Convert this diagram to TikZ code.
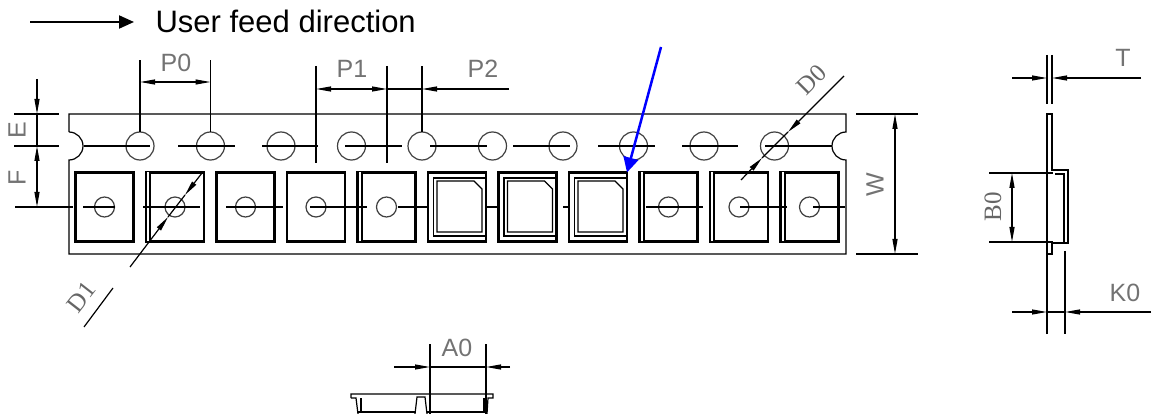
\documentclass[tikz,border=0pt]{standalone}
\usepackage{fontspec}
\setmainfont{Liberation Sans}
\newfontfamily\slabfont{Liberation Serif}
\usetikzlibrary{arrows.meta}

\newcommand{\lip}[1]{
  \draw[white,line width=1.6pt] ([xshift=2.2pt]#1.north west) -- ([xshift=2.2pt]#1.south west);
  \draw[line width=2pt] ([xshift=4pt]#1.north west) -- ([xshift=4pt]#1.south west);
}
\newcommand{\chipline}[1]{
  \draw[line width=1.3pt] ([xshift=-20pt,yshift=26pt]#1.center) -- ([xshift=17pt,yshift=26pt]#1.center)
    -- ([xshift=25pt,yshift=18pt]#1.center) -- ([xshift=25pt,yshift=-25pt]#1.center)
    -- ([xshift=-20pt,yshift=-25pt]#1.center) -- cycle;
}

\begin{document}
\begin{tikzpicture}[x=1pt,y=-1pt,>={Stealth[length=15pt,width=5pt,inset=0pt]},node distance=70.5pt,
                    line width=1.2pt,
                    hole/.style={circle,draw=black!75,minimum size=28pt,inner sep=0pt,outer sep=0pt},
                    dimple/.style={circle,draw=black!75,minimum size=20pt,inner sep=0pt,outer sep=0pt},
                    pocket/.style={rectangle,draw,line width=2.4pt,minimum width=58pt,minimum height=69pt,inner sep=0pt,outer sep=0pt},
                    frame/.style={rectangle,draw,line width=1.2pt,xshift=2.5pt,minimum width=52pt,minimum height=58pt,inner sep=0pt},
                    dim/.style={line width=1.2pt},
                    lbl/.style={font=\fontsize{25}{27}\selectfont,text=black!55,inner sep=0pt},
                    slab/.style={font=\fontsize{25}{27}\selectfont\slabfont,text=black!60,inner sep=0pt}]
  \useasboundingbox (0,0) rectangle (1152,414);

  % feed note
  \node[anchor=west,inner sep=0pt,font=\fontsize{31}{34}\selectfont] (feed) at (155,21) {User feed direction};
  \coordinate (feedtail) at (30,22);
  \coordinate (feedtip) at (134,22);
  \draw[line width=2pt,-{Triangle[length=15pt,width=13pt]}] (feedtail) -- (feedtip);

  % tape outline with the two notches
  \draw (69,132) -- (69,114) -- (846,114) -- (846,132)
        arc [start angle=-90,end angle=-270,radius=14] -- (846,254) -- (69,254) -- (69,160)
        arc [start angle=90,end angle=-90,radius=14];

  % sprocket holes
  \node[hole] (h1) at (140,146) {};
  \node[hole] (h2) [right of=h1] {};
  \node[hole] (h3) [right of=h2] {};
  \node[hole] (h4) [right of=h3] {};
  \node[hole] (h5) [right of=h4] {};
  \node[hole] (h6) [right of=h5] {};
  \node[hole] (h7) [right of=h6] {};
  \node[hole] (h8) [right of=h7] {};
  \node[hole] (h9) [right of=h8] {};
  \node[hole] (h10) [right of=h9] {};

  % pockets
  \node[pocket] (p1) at (104.5,207) {};
  \node[pocket] (p2) [right of=p1] {};
  \node[pocket] (p3) [right of=p2] {};
  \node[pocket] (p4) [right of=p3] {};
  \node[pocket] (p5) [right of=p4] {};
  \node[pocket] (p6) [right of=p5] {};
  \node[pocket] (p7) [right of=p6] {};
  \node[pocket] (p8) [right of=p7] {};
  \node[pocket] (p9) [right of=p8] {};
  \node[pocket] (p10) [right of=p9] {};
  \node[pocket] (p11) [right of=p10] {};
  \lip{p2} \lip{p5} \lip{p9} \lip{p10} \lip{p11}

  \node[dimple] (d1) at (p1) {};
  \node[dimple] (d2) at (p2) {};
  \node[dimple] (d3) at (p3) {};
  \node[dimple] (d4) at (p4) {};
  \node[dimple] (d5) at (p5) {};
  \node[dimple] (d9) at (p9) {};
  \node[dimple] (d10) at (p10) {};
  \node[dimple] (d11) at (p11) {};

  \node[frame] (f6) at (p6) {};
  \node[frame] (f7) at (p7) {};
  \node[frame] (f8) at (p8) {};
  \chipline{p6} \chipline{p7} \chipline{p8}

  % centre lines
  \path[dim]
    (84,146) edge (150,146)
    (178,146) edge (235,146)
    (262,146) edge (318,146)
    (345,146) edge (402,146)
    (430,146) edge (487,146)
    (513,146) edge (570,146)
    (598,146) edge (655,146)
    (682,146) edge (738,146)
    (765,146) edge (832,146)
    (83,207) edge (115,207)
    (143,207) edge (200,207)
    (226,207) edge (283,207)
    (310,207) edge (367,207)
    (398,207) edge (428,207)
    (487,207) edge (499,207)
    (563,207) edge (569,207)
    (646,207) edge (703,207)
    (740,207) edge (787,207)
    (813,207) edge (845,207);

  % E and F
  \coordinate (ea) at (37,79);
  \coordinate (eb) at (37,114);
  \coordinate (fa) at (37,146);
  \coordinate (fb) at (37,207);
  \path[dim]
    (ea) edge [->] (eb)
    (eb) edge (fa)
    (fa) edge [<->] (fb)
    (14,114) edge (59,114)
    (14,146) edge (59,146)
    (15,207) edge (73,207);
  \node[lbl,rotate=90] (elbl) at (17,130) {E};
  \node[lbl,rotate=90] (flbl) at (17,178) {F};

  % P0
  \coordinate (p0a) at (140,82);
  \coordinate (p0b) at (210.5,82);
  \path[dim]
    (h1.north) edge (140,60)
    (h2.north) edge (210.5,60)
    (p0a) edge [<->] (p0b);
  \node[lbl] (p0lbl) at (176,63) {P0};

  % P1 and P2
  \coordinate (p1a) at (316,89);
  \coordinate (p1b) at (387,89);
  \coordinate (p2a) at (422,89);
  \coordinate (p2b) at (509,89);
  \path[dim]
    (316,66) edge (316,163)
    (387,66) edge (387,163)
    (h5.north) edge (422,66)
    (p1a) edge [<->] (p1b)
    (p1b) edge (p2a)
    (p2b) edge [->] (p2a);
  \node[lbl] (p1lbl) at (352,69) {P1};
  \node[lbl] (p2lbl) at (483,69) {P2};

  % D0
  \coordinate (d0a) at (844,76);
  \coordinate (d0b) at (741,180);
  \coordinate (d0c) at (788,132);
  \coordinate (d0d) at (762,158);
  \path[dim]
    (d0a) edge [->] (d0c)
    (d0c) edge (d0d)
    (d0b) edge [->] (d0d);
  \node[slab,rotate=45] (d0lbl) at (812,80) {D0};

  % D1
  \coordinate (d1a) at (202,173);
  \coordinate (d1b) at (130,267);
  \coordinate (d1c) at (185,195);
  \coordinate (d1d) at (168,217);
  \coordinate (d1e) at (113,288);
  \coordinate (d1f) at (84,327);
  \path[dim]
    (d1a) edge [->] (d1c)
    (d1c) edge (d1d)
    (d1b) edge [->] (d1d)
    (d1e) edge (d1f);
  \node[slab,rotate=52] (d1lbl) at (81,297) {D1};

  % W
  \coordinate (wa) at (895,114);
  \coordinate (wb) at (895,254);
  \path[dim]
    (856,114) edge (918,114)
    (856,254) edge (918,254)
    (wa) edge [<->] (wb);
  \node[lbl,rotate=90] (wlbl) at (875,185) {W};

  % side view of the tape
  \draw (1047,334) -- (1047,114) -- (1052,114) -- (1052,170) -- (1068,170) -- (1068,243) -- (1052,243) -- (1052,254) -- (1047,254);
  \draw (1055,174) -- (1064,174) -- (1064,243);

  % T
  \coordinate (ta) at (1012,78);
  \coordinate (tb) at (1047,78);
  \coordinate (tc) at (1052,78);
  \coordinate (td) at (1141,78);
  \path[dim]
    (1047,55) edge (1047,104)
    (1052,55) edge (1052,104)
    (ta) edge [->] (tb)
    (td) edge [->] (tc);
  \node[lbl] (tlbl) at (1123,58) {T};

  % B0
  \coordinate (ba) at (1012,173);
  \coordinate (bb) at (1012,242);
  \path[dim]
    (989,173) edge (1053,173)
    (989,242) edge (1053,242)
    (ba) edge [<->] (bb);
  \node[slab,rotate=90] (blbl) at (993,207) {B0};

  % K0
  \coordinate (ka) at (1012,312);
  \coordinate (kb) at (1047,312);
  \coordinate (kc) at (1065,312);
  \coordinate (kd) at (1151,312);
  \path[dim]
    (1065,251) edge (1065,334)
    (ka) edge [->] (kb)
    (kb) edge (kc)
    (kd) edge [->] (kc);
  \node[lbl] (klbl) at (1125,293) {K0};

  % section through the pockets
  \draw (351,398) -- (351,394) -- (493,394) -- (493,398) -- (488,398) -- (487,414);
  \draw (351,398) -- (356,398) -- (358,414);
  \draw (361,398) -- (361,412);
  \draw (484,398) -- (484,412);
  \draw (415,414) -- (417,397) -- (425,397) -- (427,414);
  \draw[line width=2pt] (358,412) -- (415,412);
  \draw[line width=2pt] (427,412) -- (487,412);

  % A0
  \coordinate (aa) at (394,367);
  \coordinate (ab) at (430,367);
  \coordinate (ac) at (486,367);
  \coordinate (ad) at (510,367);
  \path[dim]
    (430,344) edge (430,414)
    (486,344) edge (486,414)
    (aa) edge [->] (ab)
    (ab) edge (ac)
    (ad) edge [->] (ac);
  \node[lbl] (albl) at (457,348) {A0};

  % pointer to the loaded pocket
  \coordinate (marktail) at (661,47);
  \draw[blue,line width=2.5pt,-{Triangle[length=15pt,width=15pt]}] (marktail) -- (p8.north east);
\end{tikzpicture}
\end{document}
